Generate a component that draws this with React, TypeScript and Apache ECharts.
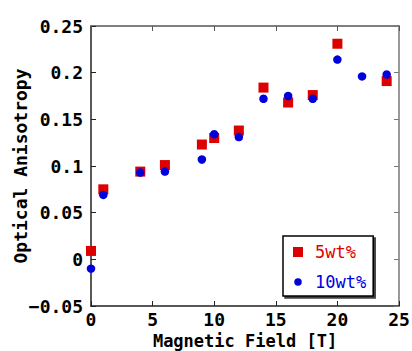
import React, { useEffect, useRef } from "react";
import * as echarts from "echarts";

const fieldT = [0, 1, 4, 6, 9, 10, 12, 14, 16, 18, 20, 22, 24];
const wt5 = [0.009, 0.075, 0.094, 0.101, 0.123, 0.13, 0.138, 0.184, 0.168, 0.176, 0.231, null, 0.191];
const wt10 = [-0.01, 0.069, 0.093, 0.094, 0.107, 0.134, 0.131, 0.172, 0.175, 0.172, 0.214, 0.196, 0.198];
const seriesNames = ["5wt%", "10wt%"];

const FONT = "'DejaVu Sans Mono', 'Liberation Mono', monospace";

export default function App() {
  const ref = useRef<HTMLDivElement>(null);
  useEffect(() => {
    const chart = echarts.init(ref.current!, null, { renderer: "svg" });
    const pairs = (ys: (number | null)[]) =>
      fieldT.map((x, i) => [x, ys[i]]).filter((p) => p[1] !== null);
    chart.setOption({
      animation: false,
      backgroundColor: "#fff",
      grid: { left: 91, right: 13, top: 26, bottom: 45, outerBoundsMode: "none", containLabel: false },
      xAxis: [
        {
          type: "value", min: 0, max: 25, interval: 5,
          name: "Magnetic Field [T]", nameLocation: "middle", nameGap: 25, nameMoveOverlap: false,
          nameTextStyle: { fontFamily: FONT, fontSize: 17, lineHeight: 19, color: "#000", fontWeight: "bold" },
          axisLine: { show: true, onZero: false, lineStyle: { color: "#222", width: 1.5 } },
          axisTick: { show: true, inside: true, length: 5, lineStyle: { color: "#222" } },
          axisLabel: { fontFamily: FONT, fontSize: 18, lineHeight: 20, color: "#000", margin: 3, fontWeight: "bold" },
          splitLine: { show: false },
        },
        {
          type: "value", min: 0, max: 25, interval: 5, position: "top",
          axisLine: { show: true, onZero: false, lineStyle: { color: "#555", width: 1.5 } },
          axisTick: { show: true, inside: true, length: 5, lineStyle: { color: "#555" } },
          axisLabel: { show: false },
          splitLine: { show: false },
        },
      ],
      yAxis: [
        {
          type: "value", min: -0.05, max: 0.25, interval: 0.05,
          name: "Optical Anisotropy", nameLocation: "middle", nameGap: 61, nameMoveOverlap: false,
          nameTextStyle: { fontFamily: FONT, fontSize: 18, lineHeight: 20, color: "#000", fontWeight: "bold" },
          axisLine: { show: true, onZero: false, lineStyle: { color: "#222", width: 1.5 } },
          axisTick: { show: true, inside: true, length: 5, lineStyle: { color: "#222" } },
          axisLabel: {
            fontFamily: FONT, fontSize: 18, color: "#000", margin: 8, fontWeight: "bold",
            formatter: (v: number) => {
              const r = Math.round(v * 100) / 100;
              if (r === 0) return "0";
              return r.toString().replace("-", "\u2212");
            },
          },
          splitLine: { show: false },
        },
        {
          type: "value", min: -0.05, max: 0.25, interval: 0.05, position: "right",
          axisLine: { show: true, onZero: false, lineStyle: { color: "#777", width: 1.5 } },
          axisTick: { show: true, inside: true, length: 5, lineStyle: { color: "#777" } },
          axisLabel: { show: false },
          splitLine: { show: false },
        },
      ],
      legend: {
        orient: "vertical",
        left: 283, top: 236,
        padding: [6, 7, 4, 10],
        itemGap: 10,
        itemWidth: 24, itemHeight: 10,
        symbolKeepAspect: true,
        backgroundColor: "#fff",
        borderColor: "#000", borderWidth: 1.5,
        shadowColor: "rgba(0,0,0,0.75)", shadowOffsetX: 2, shadowOffsetY: 2, shadowBlur: 0,
        textStyle: { fontFamily: FONT, fontSize: 17, lineHeight: 20 },
        data: [
          { name: seriesNames[0], icon: "path://M0,0h10v10h-10z", textStyle: { color: "#e00000" } },
          {
            name: seriesNames[1],
            icon: "path://M0,0M10,10M1.25,5a3.75,3.75 0 1,0 7.5,0a3.75,3.75 0 1,0 -7.5,0z",
            textStyle: { color: "#0000e0" },
          },
        ],
      },
      series: [
        {
          name: seriesNames[0], type: "scatter", symbol: "rect", symbolSize: 10,
          itemStyle: { color: "#dd0000", opacity: 1 },
          data: pairs(wt5), z: 2,
        },
        {
          name: seriesNames[1], type: "scatter", symbol: "circle", symbolSize: 8.5,
          itemStyle: { color: "#0000dd", opacity: 1 },
          data: pairs(wt10), z: 3,
        },
      ],
    });
    return () => chart.dispose();
  }, []);
  return <div ref={ref} style={{ width: 412, height: 351, position: "absolute", left: 0, top: 0 }} />;
}
